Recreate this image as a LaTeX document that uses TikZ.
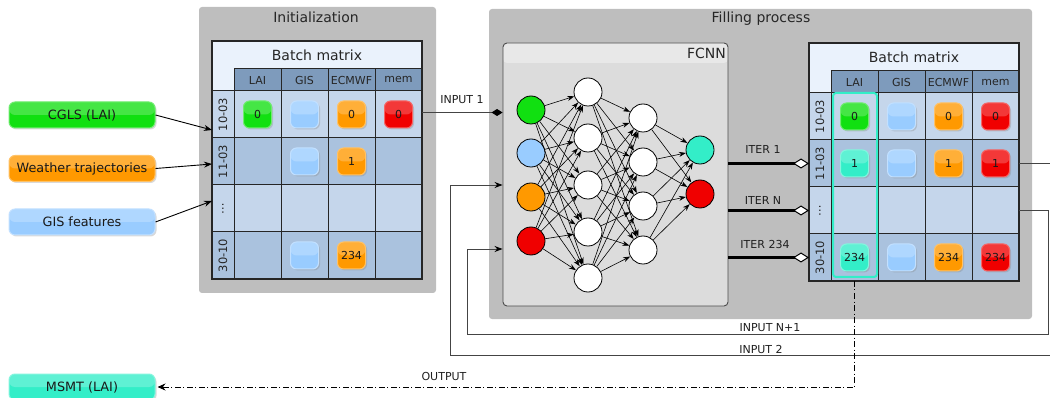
\documentclass[tikz,border=0pt]{standalone}
\usepackage{fontspec}
\setmainfont{DejaVu Sans}
\usetikzlibrary{arrows.meta,shadows,calc}

\definecolor{grpc}{HTML}{BEBEBE}
\definecolor{fcnnbg}{HTML}{DCDCDC}
\definecolor{fcnnhd}{HTML}{E8E8E8}
\definecolor{mtitle}{HTML}{EAF2FC}
\definecolor{mhead}{HTML}{7E9BBC}
\definecolor{mlight}{HTML}{C5D6EB}
\definecolor{mdark}{HTML}{AAC2DE}
\definecolor{cgreen}{HTML}{11E011}
\definecolor{cblue}{HTML}{99CCFF}
\definecolor{corange}{HTML}{FF9900}
\definecolor{cred}{HTML}{F00000}
\definecolor{ccyan}{HTML}{33EEC8}
\definecolor{lgray}{HTML}{444444}

\newcommand{\fT}{\fontsize{14}{17}\selectfont}
\newcommand{\fS}{\fontsize{11}{13}\selectfont}
\newcommand{\fR}{\fontsize{11.5}{13}\selectfont}
\newcommand{\fB}{\fontsize{12.8}{15}\selectfont}

\newcommand{\batchmat}[3]{%
\begin{scope}[shift={(#2,#3)}]
\fill[mtitle] (0,0) rectangle (210,50);
\node[font=\fT, text=black!85] (#1-t) at (105,14) {Batch matrix};
\foreach \cc/\txt in {1/LAI,2/GIS,3/ECMWF,4/mem}
  \node[hcell] (#1-h\cc) at ({22+47*(\cc-0.5)},39) {\txt};
\foreach \rr/\lab/\col in {1/10-03/mlight,2/11-03/mdark,3/…/mlight,4/30-10/mdark}{
  \node[rcell, fill=\col] (#1-\rr-0) at (11,{50+47*(\rr-0.5)}) {};
  \node[font=\fR, rotate=90, text=black!85] (#1-\rr-l) at (#1-\rr-0) {\lab};
  \foreach \cc in {1,...,4}
    \node[cell, fill=\col] (#1-\rr-\cc) at ({22+47*(\cc-0.5)},{50+47*(\rr-0.5)}) {};
}
\draw[line width=1.2, black!85] (0,0) rectangle (210,238);
\end{scope}}

\begin{document}
\begin{tikzpicture}[x=1pt,y=-1pt,
  grp/.style={fill=grpc, rounded corners=3pt, draw=none, inner sep=0},
  fcnnbox/.style={fill=fcnnbg, draw=black!70, line width=0.9, rounded corners=4pt, inner sep=0,
    path picture={\fill[fcnnhd] (path picture bounding box.north west) rectangle ([yshift=-20pt]path picture bounding box.north east);}},
  cell/.style={draw=black!85, line width=1, minimum width=47, minimum height=47, inner sep=0, outer sep=0},
  hcell/.style={cell, minimum height=22, fill=mhead, font=\fS, text=black!85},
  rcell/.style={cell, minimum width=22},
  btn/.style={draw=#1!60!white, line width=1, fill=#1, rounded corners=6pt, minimum width=28, minimum height=27, inner sep=0, font=\fS, text=black!90,
    drop shadow={opacity=0.3, shadow xshift=1.5pt, shadow yshift=-1.5pt},
    path picture={\fill[white, opacity=0.22] (path picture bounding box.north west) rectangle (path picture bounding box.east);}},
  inbox/.style={btn=#1, minimum width=146, minimum height=26, font=\fB},
  neuron/.style={circle, draw=black, line width=0.8, minimum size=28, inner sep=0, fill=white},
  nnarr/.style={-{Stealth[length=7pt,width=5pt]}, line width=0.6},
  inarr/.style={-{Stealth[length=8pt,width=6pt]}, line width=0.9},
  gline/.style={draw=lgray, line width=0.9},
  fbarr/.style={gline, -{Stealth[length=8pt,width=6pt,color=black]}},
  iterline/.style={line width=2.5, black, -{Diamond[fill=white, length=16pt, width=10pt, line width=1pt]}},
  lbl/.style={font=\fS, text=black!88},
]
\useasboundingbox (0,0) rectangle (1050,398);

% groups
\node[grp, minimum width=237, minimum height=286] (init) at (317.5,150) {};
\node[font=\fT, text=black!85] (initT) at (316,17) {Initialization};
\node[grp, minimum width=543, minimum height=310] (fillg) at (760.5,164) {};
\node[font=\fT, text=black!85] (fillT) at (761,19) {Filling process};

% FCNN
\node[fcnnbox, minimum width=225, minimum height=263] (fcnn) at (615.5,174.5) {};
\node[font=\fT, text=black!85, anchor=east, inner sep=1pt] (fcnnT) at (727,53) {FCNN};

% batch matrices
\batchmat{L}{212}{41}
\batchmat{R}{809}{43}

% left matrix buttons
\node[btn=cgreen] (Lb11) at (L-1-1) {0};
\node[btn=cblue] (Lb12) at (L-1-2) {};
\node[btn=corange] (Lb13) at (L-1-3) {0};
\node[btn=cred] (Lb14) at (L-1-4) {0};
\node[btn=cblue] (Lb22) at (L-2-2) {};
\node[btn=corange] (Lb23) at (L-2-3) {1};
\node[btn=cblue] (Lb42) at (L-4-2) {};
\node[btn=corange] (Lb43) at (L-4-3) {234};

% right matrix buttons
\node[btn=cgreen] (Rb11) at (R-1-1) {0};
\node[btn=cblue] (Rb12) at (R-1-2) {};
\node[btn=corange] (Rb13) at (R-1-3) {0};
\node[btn=cred] (Rb14) at (R-1-4) {0};
\node[btn=ccyan] (Rb21) at (R-2-1) {1};
\node[btn=cblue] (Rb22) at (R-2-2) {};
\node[btn=corange] (Rb23) at (R-2-3) {1};
\node[btn=cred] (Rb24) at (R-2-4) {1};
\node[btn=ccyan] (Rb41) at (R-4-1) {234};
\node[btn=cblue] (Rb42) at (R-4-2) {};
\node[btn=corange] (Rb43) at (R-4-3) {234};
\node[btn=cred] (Rb44) at (R-4-4) {234};

% highlight of LAI column
\draw[ccyan, line width=2, rounded corners=3pt] ([shift={(2,0)}]R-1-1.north west) rectangle ([shift={(-1,-4)}]R-4-1.south east);

% input boxes
\node[inbox=cgreen] (cgls) at (82,115) {CGLS (LAI)};
\node[inbox=corange] (weather) at (82,168.5) {Weather trajectories};
\node[inbox=cblue] (gisf) at (82,222) {GIS features};
\node[inbox=ccyan] (msmt) at (82,387) {MSMT (LAI)};

\coordinate (Lin1) at (212,130);
\coordinate (Lin2) at (212,164);
\coordinate (Lin3) at (212,201);
\draw[inarr] (cgls.east) -- (Lin1);
\draw[inarr] (weather.east) -- (Lin2);
\draw[inarr] (gisf.east) -- (Lin3);

% neural network
\foreach \i/\yy/\cl in {1/110/cgreen,2/153/cblue,3/197/corange,4/241/cred}
  \node[neuron, fill=\cl] (a\i) at (531,\yy) {};
\foreach \i/\yy in {1/92,2/138,3/185,4/232,5/278}
  \node[neuron] (b\i) at (588,\yy) {};
\foreach \i/\yy in {1/118,2/162,3/206,4/250}
  \node[neuron] (c\i) at (643,\yy) {};
\node[neuron, fill=ccyan] (d1) at (700,150) {};
\node[neuron, fill=cred] (d2) at (700,194) {};
\foreach \i in {1,...,4} \foreach \j in {1,...,5} \draw[nnarr] (a\i) -- (b\j);
\foreach \i in {1,...,5} \foreach \j in {1,...,4} \draw[nnarr] (b\i) -- (c\j);
\foreach \i in {1,...,4} \foreach \j in {1,2} \draw[nnarr] (c\i) -- (d\j);

% INPUT 1
\draw[gline, -{Diamond[length=11pt,width=7pt,color=black]}] (L-1-4.east) ++(0,-2) coordinate (i1s) -- (i1s -| fcnn.west);
\node[lbl] (lin1) at (462,100) {INPUT 1};

% ITER lines
\draw[iterline] (fcnn.east |- R-2-0) -- (R-2-0.west);
\draw[iterline] (fcnn.east |- R-3-0) -- (R-3-0.west);
\draw[iterline] (fcnn.east |- R-4-0) -- (R-4-0.west);
\node[lbl] (it1) at (763,149) {ITER 1};
\node[lbl] (itN) at (763,200) {ITER N};
\node[lbl] (it234) at (765,244.5) {ITER 234};

% feedback
\draw[fbarr] (R-2-4.east) -| (1056,355) -| (450,185) -- (fcnn.west |- 450,185);
\draw[fbarr] (R-3-4.east) -| (1048,334) -| (467,249) -- (fcnn.west |- 467,249);
\node[lbl] (inN) at (770,327.5) {INPUT N+1};
\node[lbl] (in2) at (761,349) {INPUT 2};

% output
\draw[line width=1, black, dash pattern=on 6pt off 2.5pt on 1pt off 2.5pt, -{Stealth[length=8pt,width=7pt]}, shorten >=2pt] (R-4-1.south) |- (msmt.east);
\node[lbl] (outl) at (444,376) {OUTPUT};
\end{tikzpicture}
\end{document}
